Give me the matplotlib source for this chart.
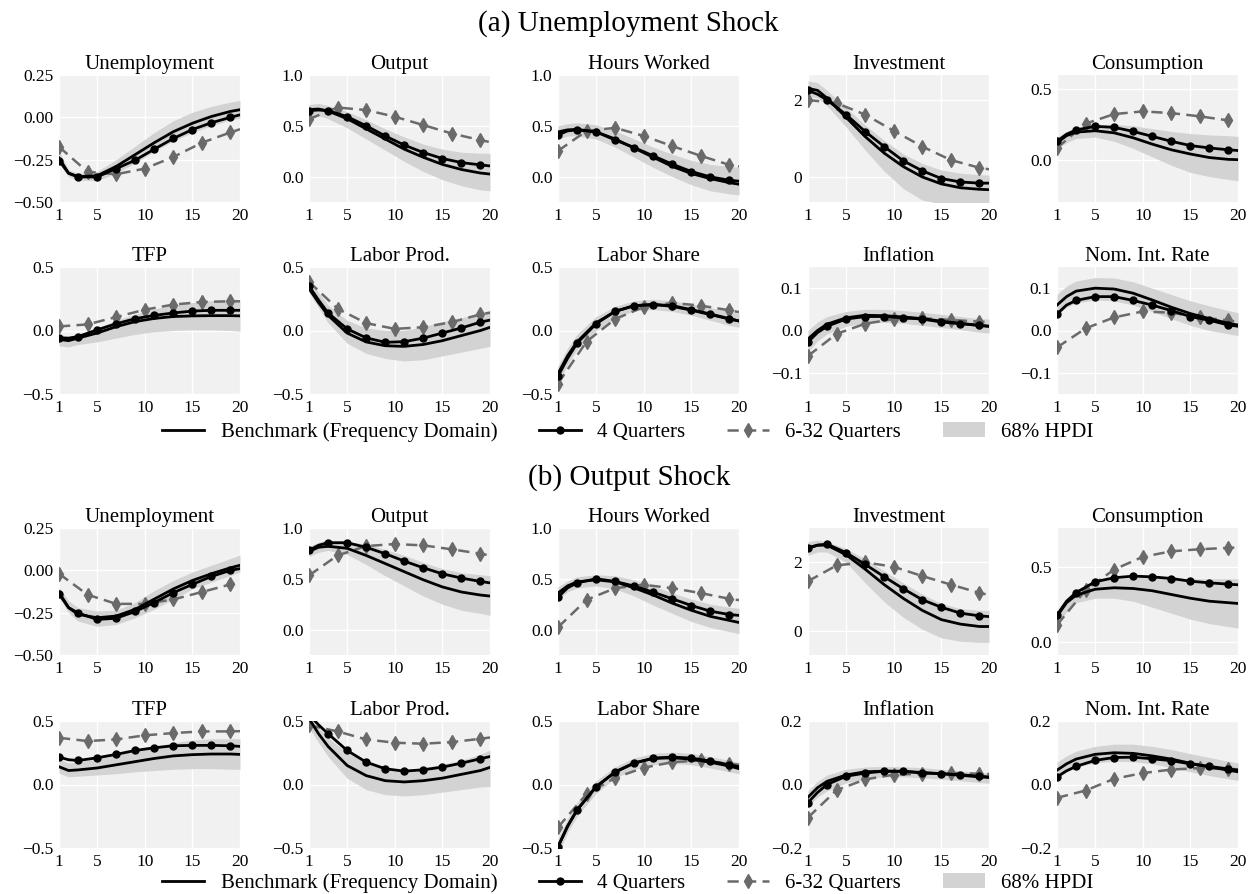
import matplotlib
matplotlib.use("Agg")
import matplotlib.pyplot as plt
from matplotlib.lines import Line2D
from matplotlib.patches import Patch

plt.rcParams['font.family'] = ['Liberation Serif', 'DejaVu Serif']
plt.rcParams['axes.unicode_minus'] = True

PANELS = ["Unemployment", "Output", "Hours Worked", "Investment", "Consumption",
          "TFP", "Labor Prod.", "Labor Share", "Inflation", "Nom. Int. Rate"]
SHOCKS = ["(a) Unemployment Shock", "(b) Output Shock"]
LEGEND = ["Benchmark (Frequency Domain)", "4 Quarters", "6-32 Quarters", "68% HPDI"]

XTICKS = [1, 5, 10, 15, 20]
Q = [1, 2, 3, 5, 7, 9, 11, 13, 15, 17, 19, 20]
Q632 = [1, 4, 7, 10, 13, 16, 19, 20]

# ---------------- (a) Unemployment shock ----------------
A_BENCH = [
    [-0.24, -0.33, -0.35, -0.345, -0.29, -0.22, -0.15, -0.085, -0.035, 0.005, 0.035, 0.045],
    [0.66, 0.665, 0.645, 0.57, 0.47, 0.37, 0.27, 0.19, 0.12, 0.07, 0.035, 0.025],
    [0.44, 0.46, 0.465, 0.44, 0.37, 0.28, 0.19, 0.10, 0.03, -0.02, -0.06, -0.075],
    [2.3, 2.25, 2.05, 1.55, 1.05, 0.62, 0.27, 0.0, -0.18, -0.28, -0.32, -0.33],
    [0.12, 0.17, 0.195, 0.205, 0.19, 0.155, 0.11, 0.07, 0.04, 0.015, 0.002, 0.0],
    [-0.07, -0.08, -0.06, -0.02, 0.03, 0.07, 0.095, 0.11, 0.115, 0.117, 0.117, 0.115],
    [0.33, 0.22, 0.12, -0.02, -0.09, -0.12, -0.125, -0.11, -0.08, -0.04, 0.0, 0.025],
    [-0.34, -0.2, -0.09, 0.06, 0.15, 0.195, 0.205, 0.19, 0.16, 0.125, 0.09, 0.075],
    [-0.02, 0.0, 0.015, 0.03, 0.036, 0.035, 0.032, 0.028, 0.022, 0.017, 0.012, 0.01],
    [0.06, 0.08, 0.093, 0.1, 0.098, 0.088, 0.072, 0.055, 0.04, 0.028, 0.017, 0.013],
]
A_Q4 = [
    [-0.255, -0.33, -0.352, -0.352, -0.303, -0.253, -0.188, -0.125, -0.072, -0.032, 0.0, 0.015],
    [0.65, 0.655, 0.65, 0.59, 0.5, 0.40, 0.31, 0.237, 0.178, 0.138, 0.115, 0.105],
    [0.41, 0.45, 0.46, 0.44, 0.36, 0.286, 0.204, 0.122, 0.05, -0.003, -0.036, -0.045],
    [2.25, 2.15, 2.0, 1.62, 1.18, 0.79, 0.42, 0.16, -0.04, -0.13, -0.16, -0.16],
    [0.13, 0.18, 0.21, 0.236, 0.229, 0.2, 0.165, 0.13, 0.10, 0.083, 0.07, 0.065],
    [-0.058, -0.06, -0.048, 0.005, 0.053, 0.093, 0.119, 0.138, 0.153, 0.159, 0.159, 0.159],
    [0.35, 0.24, 0.138, 0.013, -0.058, -0.093, -0.088, -0.06, -0.02, 0.02, 0.066, 0.082],
    [-0.36, -0.22, -0.1, 0.053, 0.151, 0.196, 0.204, 0.196, 0.164, 0.13, 0.093, 0.075],
    [-0.027, -0.005, 0.01, 0.027, 0.033, 0.033, 0.03, 0.027, 0.02, 0.016, 0.012, 0.01],
    [0.039, 0.06, 0.071, 0.08, 0.08, 0.071, 0.06, 0.047, 0.033, 0.024, 0.013, 0.01],
]
A_LO = [
    [-0.27, -0.35, -0.37, -0.375, -0.33, -0.27, -0.2, -0.14, -0.09, -0.05, -0.015, -0.005],
    [0.6, 0.6, 0.57, 0.48, 0.37, 0.26, 0.15, 0.05, -0.03, -0.09, -0.13, -0.14],
    [0.37, 0.4, 0.4, 0.37, 0.29, 0.19, 0.09, 0.0, -0.08, -0.14, -0.17, -0.18],
    [2.1, 2.05, 1.85, 1.3, 0.7, 0.15, -0.3, -0.6, -0.7, -0.72, -0.72, -0.72],
    [0.08, 0.12, 0.15, 0.16, 0.13, 0.08, 0.02, -0.04, -0.09, -0.12, -0.14, -0.15],
    [-0.12, -0.13, -0.11, -0.09, -0.06, -0.03, -0.01, 0.0, 0.005, 0.005, 0.0, -0.005],
    [0.3, 0.18, 0.06, -0.1, -0.18, -0.22, -0.24, -0.23, -0.2, -0.17, -0.14, -0.125],
    [-0.42, -0.27, -0.15, 0.0, 0.1, 0.155, 0.165, 0.15, 0.12, 0.08, 0.04, 0.025],
    [-0.05, -0.025, -0.008, 0.01, 0.018, 0.019, 0.017, 0.012, 0.007, 0.002, -0.004, -0.006],
    [0.035, 0.055, 0.065, 0.072, 0.07, 0.06, 0.045, 0.028, 0.012, 0.0, -0.008, -0.012],
]
A_HI = [
    [-0.2, -0.31, -0.33, -0.32, -0.25, -0.17, -0.09, -0.02, 0.03, 0.065, 0.09, 0.1],
    [0.71, 0.72, 0.7, 0.64, 0.56, 0.47, 0.39, 0.32, 0.27, 0.24, 0.23, 0.23],
    [0.5, 0.52, 0.53, 0.51, 0.45, 0.37, 0.29, 0.22, 0.16, 0.12, 0.1, 0.09],
    [2.5, 2.45, 2.25, 1.8, 1.35, 0.95, 0.6, 0.35, 0.18, 0.1, 0.06, 0.05],
    [0.16, 0.2, 0.23, 0.25, 0.25, 0.24, 0.22, 0.2, 0.185, 0.175, 0.17, 0.165],
    [-0.03, -0.05, -0.03, 0.02, 0.08, 0.13, 0.17, 0.2, 0.22, 0.235, 0.24, 0.24],
    [0.4, 0.3, 0.2, 0.08, 0.02, 0.0, 0.0, 0.03, 0.07, 0.1, 0.14, 0.16],
    [-0.28, -0.14, -0.03, 0.11, 0.19, 0.235, 0.245, 0.235, 0.21, 0.18, 0.15, 0.135],
    [0.0, 0.02, 0.033, 0.045, 0.05, 0.05, 0.047, 0.043, 0.038, 0.033, 0.028, 0.027],
    [0.085, 0.105, 0.117, 0.125, 0.124, 0.115, 0.1, 0.085, 0.07, 0.058, 0.047, 0.042],
]
A_Q632 = [
    [-0.174, -0.322, -0.336, -0.303, -0.234, -0.15, -0.089, -0.07],
    [0.566, 0.68, 0.655, 0.59, 0.507, 0.424, 0.359, 0.34],
    [0.253, 0.45, 0.48, 0.40, 0.30, 0.204, 0.115, 0.1],
    [2.0, 1.92, 1.62, 1.2, 0.79, 0.44, 0.24, 0.2],
    [0.083, 0.255, 0.323, 0.342, 0.33, 0.307, 0.278, 0.27],
    [0.032, 0.048, 0.106, 0.164, 0.204, 0.225, 0.23, 0.23],
    [0.384, 0.172, 0.058, 0.013, 0.026, 0.066, 0.127, 0.14],
    [-0.418, -0.087, 0.09, 0.185, 0.217, 0.196, 0.159, 0.145],
    [-0.06, -0.008, 0.016, 0.027, 0.029, 0.025, 0.021, 0.02],
    [-0.04, 0.005, 0.031, 0.045, 0.042, 0.031, 0.024, 0.02],
]

# ---------------- (b) Output shock ----------------
B_BENCH = [
    [-0.13, -0.22, -0.26, -0.28, -0.27, -0.23, -0.17, -0.11, -0.06, -0.02, 0.015, 0.03],
    [0.77, 0.81, 0.82, 0.8, 0.73, 0.65, 0.57, 0.49, 0.42, 0.37, 0.34, 0.33],
    [0.36, 0.43, 0.47, 0.49, 0.47, 0.41, 0.34, 0.26, 0.19, 0.13, 0.09, 0.07],
    [2.4, 2.5, 2.5, 2.22, 1.8, 1.35, 0.95, 0.6, 0.33, 0.2, 0.13, 0.13],
    [0.17, 0.26, 0.31, 0.35, 0.36, 0.355, 0.34, 0.315, 0.29, 0.27, 0.26, 0.255],
    [0.14, 0.11, 0.115, 0.13, 0.155, 0.18, 0.205, 0.225, 0.235, 0.24, 0.24, 0.237],
    [0.52, 0.4, 0.3, 0.15, 0.07, 0.03, 0.02, 0.03, 0.05, 0.08, 0.11, 0.135],
    [-0.49, -0.33, -0.2, -0.02, 0.1, 0.17, 0.205, 0.21, 0.2, 0.175, 0.145, 0.125],
    [-0.04, -0.01, 0.01, 0.03, 0.04, 0.042, 0.041, 0.038, 0.034, 0.029, 0.024, 0.022],
    [0.045, 0.065, 0.08, 0.095, 0.1, 0.098, 0.09, 0.08, 0.067, 0.055, 0.045, 0.04],
]
B_Q4 = [
    [-0.139, -0.22, -0.252, -0.29, -0.283, -0.243, -0.19, -0.132, -0.083, -0.036, 0.0, 0.01],
    [0.78, 0.83, 0.855, 0.855, 0.81, 0.747, 0.674, 0.608, 0.549, 0.507, 0.474, 0.46],
    [0.319, 0.41, 0.46, 0.5, 0.474, 0.428, 0.368, 0.303, 0.237, 0.181, 0.148, 0.14],
    [2.43, 2.5, 2.53, 2.28, 1.94, 1.58, 1.23, 0.91, 0.69, 0.52, 0.44, 0.42],
    [0.178, 0.27, 0.327, 0.4, 0.427, 0.438, 0.433, 0.422, 0.404, 0.393, 0.384, 0.38],
    [0.216, 0.195, 0.189, 0.21, 0.237, 0.268, 0.289, 0.305, 0.308, 0.308, 0.305, 0.3],
    [0.55, 0.47, 0.4, 0.268, 0.176, 0.124, 0.105, 0.116, 0.137, 0.168, 0.203, 0.22],
    [-0.49, -0.33, -0.2, -0.016, 0.097, 0.168, 0.208, 0.216, 0.208, 0.184, 0.155, 0.14],
    [-0.057, -0.025, 0.0, 0.026, 0.036, 0.042, 0.042, 0.036, 0.034, 0.031, 0.026, 0.024],
    [0.024, 0.043, 0.057, 0.076, 0.085, 0.086, 0.081, 0.075, 0.065, 0.057, 0.049, 0.045],
]
B_LO = [
    [-0.16, -0.25, -0.3, -0.33, -0.32, -0.28, -0.23, -0.17, -0.11, -0.07, -0.03, -0.01],
    [0.72, 0.76, 0.78, 0.74, 0.64, 0.53, 0.43, 0.33, 0.25, 0.19, 0.16, 0.14],
    [0.3, 0.37, 0.41, 0.43, 0.4, 0.33, 0.24, 0.16, 0.08, 0.02, -0.02, -0.04],
    [2.2, 2.3, 2.3, 2.0, 1.4, 0.85, 0.4, 0.05, -0.2, -0.3, -0.33, -0.33],
    [0.1, 0.2, 0.26, 0.29, 0.29, 0.27, 0.23, 0.19, 0.15, 0.12, 0.1, 0.09],
    [0.09, 0.06, 0.065, 0.075, 0.085, 0.1, 0.11, 0.12, 0.125, 0.125, 0.12, 0.12],
    [0.45, 0.33, 0.22, 0.05, -0.04, -0.08, -0.09, -0.08, -0.06, -0.04, -0.02, -0.015],
    [-0.55, -0.38, -0.25, -0.07, 0.05, 0.12, 0.155, 0.165, 0.155, 0.13, 0.1, 0.085],
    [-0.07, -0.04, -0.02, 0.005, 0.018, 0.024, 0.024, 0.021, 0.017, 0.012, 0.006, 0.004],
    [0.02, 0.04, 0.055, 0.068, 0.073, 0.072, 0.065, 0.053, 0.04, 0.028, 0.018, 0.013],
]
B_HI = [
    [-0.1, -0.18, -0.22, -0.24, -0.235, -0.19, -0.12, -0.06, -0.01, 0.03, 0.07, 0.09],
    [0.82, 0.86, 0.88, 0.87, 0.84, 0.79, 0.73, 0.66, 0.6, 0.56, 0.54, 0.53],
    [0.42, 0.48, 0.52, 0.54, 0.53, 0.49, 0.43, 0.36, 0.3, 0.25, 0.22, 0.21],
    [2.6, 2.65, 2.6, 2.4, 2.1, 1.75, 1.4, 1.07, 0.8, 0.65, 0.6, 0.6],
    [0.2, 0.29, 0.35, 0.4, 0.42, 0.43, 0.43, 0.42, 0.42, 0.42, 0.42, 0.42],
    [0.2, 0.17, 0.18, 0.2, 0.23, 0.27, 0.3, 0.33, 0.35, 0.36, 0.36, 0.36],
    [0.55, 0.45, 0.37, 0.25, 0.17, 0.13, 0.12, 0.13, 0.16, 0.19, 0.24, 0.27],
    [-0.42, -0.27, -0.14, 0.03, 0.14, 0.21, 0.245, 0.255, 0.245, 0.22, 0.19, 0.175],
    [-0.02, 0.01, 0.03, 0.048, 0.055, 0.057, 0.056, 0.053, 0.048, 0.043, 0.038, 0.036],
    [0.07, 0.09, 0.105, 0.12, 0.127, 0.127, 0.12, 0.11, 0.097, 0.085, 0.073, 0.068],
]
B_Q632 = [
    [-0.02, -0.144, -0.198, -0.198, -0.172, -0.128, -0.083, -0.07],
    [0.533, 0.73, 0.822, 0.842, 0.829, 0.79, 0.747, 0.73],
    [0.023, 0.293, 0.408, 0.441, 0.408, 0.359, 0.303, 0.29],
    [1.45, 1.91, 2.0, 1.87, 1.6, 1.35, 1.11, 1.05],
    [0.111, 0.344, 0.482, 0.567, 0.604, 0.618, 0.627, 0.63],
    [0.368, 0.342, 0.355, 0.387, 0.405, 0.418, 0.418, 0.42],
    [0.466, 0.418, 0.355, 0.329, 0.321, 0.334, 0.36, 0.37],
    [-0.337, -0.074, 0.053, 0.132, 0.176, 0.189, 0.163, 0.155],
    [-0.104, -0.018, 0.016, 0.031, 0.034, 0.036, 0.034, 0.033],
    [-0.042, -0.019, 0.018, 0.036, 0.047, 0.052, 0.049, 0.048],
]

# y-axis ticks / limits per panel
A_YTICKS = [[-0.5, -0.25, 0.0, 0.25], [0.0, 0.5, 1.0], [0.0, 0.5, 1.0], [0, 2], [0.0, 0.5],
            [-0.5, 0.0, 0.5], [-0.5, 0.0, 0.5], [-0.5, 0.0, 0.5], [-0.1, 0.0, 0.1], [-0.1, 0.0, 0.1]]
A_YLIM = [(-0.5, 0.25), (-0.25, 1.0), (-0.25, 1.0), (-0.65, 2.65), (-0.3, 0.6),
          (-0.5, 0.5), (-0.5, 0.5), (-0.5, 0.5), (-0.15, 0.15), (-0.15, 0.15)]
B_YTICKS = [[-0.5, -0.25, 0.0, 0.25], [0.0, 0.5, 1.0], [0.0, 0.5, 1.0], [0, 2], [0.0, 0.5],
            [-0.5, 0.0, 0.5], [-0.5, 0.0, 0.5], [-0.5, 0.0, 0.5], [-0.2, 0.0, 0.2], [-0.2, 0.0, 0.2]]
B_YLIM = [(-0.5, 0.25), (-0.25, 1.0), (-0.25, 1.0), (-0.7, 3.0), (-0.09, 0.76),
          (-0.5, 0.5), (-0.5, 0.5), (-0.5, 0.5), (-0.2, 0.2), (-0.2, 0.2)]
YFMT = ["{:.2f}", "{:.1f}", "{:.1f}", "{:.0f}", "{:.1f}",
        "{:.1f}", "{:.1f}", "{:.1f}", "{:.1f}", "{:.1f}"]

W, H = 1250, 894
fig = plt.figure(figsize=(W / 100, H / 100), dpi=100)

FACE = '#f1f1f1'
BAND = '#d3d3d3'
GRAY = '#6a6a6a'
DASH = (0, (4.5, 2.5))

col_left = [59, 309, 558, 808, 1057]
ax_w, ax_h = 181, 127
row_top = [75, 267, 528, 721]

mk4 = [i for i, q in enumerate(Q) if q % 2 == 1 and q < 20]
mk6 = [i for i, q in enumerate(Q632) if q < 20]


def fmt_tick(v, f):
    s = f.format(v)
    if s.startswith('-'):
        s = '\u2212' + s[1:]
    return s


datasets = [
    (A_BENCH, A_Q4, A_LO, A_HI, A_Q632, A_YTICKS, A_YLIM),
    (B_BENCH, B_Q4, B_LO, B_HI, B_Q632, B_YTICKS, B_YLIM),
]

for s, (bench, q4, lo, hi, q632, yticks, ylim) in enumerate(datasets):
    for p in range(10):
        r = s * 2 + p // 5
        c = p % 5
        left = col_left[c] / W
        bottom = 1 - (row_top[r] + ax_h) / H
        ax = fig.add_axes([left, bottom, ax_w / W, ax_h / H])
        ax.set_facecolor(FACE)
        for sp in ax.spines.values():
            sp.set_visible(False)
        ax.grid(True, color='white', lw=1.0)
        ax.set_axisbelow(True)
        ax.fill_between(Q, lo[p], hi[p], color=BAND, lw=0, zorder=1)
        ax.plot(Q, bench[p], color='black', lw=2.0, zorder=3)
        ax.plot(Q, q4[p], color='black', lw=2.0, marker='o', ms=5,
                markevery=mk4, zorder=4)
        ax.plot(Q632, q632[p], color=GRAY, lw=1.8, ls=DASH, marker='d',
                ms=7.5, markevery=mk6, zorder=2.5)
        ax.set_xlim(1, 20)
        ax.set_ylim(*ylim[p])
        ax.set_xticks(XTICKS)
        ax.set_xticklabels([str(t) for t in XTICKS])
        ax.set_yticks(yticks[p])
        ax.set_yticklabels([fmt_tick(v, YFMT[p]) for v in yticks[p]])
        ax.tick_params(length=0, labelsize=12.5, pad=4)
        ax.set_title(PANELS[p], fontsize=15, pad=4)

    # section title
    ytitle = 24 if s == 0 else 478
    fig.text(0.503, 1 - ytitle / H, SHOCKS[s], ha='center', va='center', fontsize=21)

    handles = [
        Line2D([], [], color='black', lw=2.0),
        Line2D([], [], color='black', lw=2.0, marker='o', ms=5),
        Line2D([], [], color=GRAY, lw=1.8, ls=DASH, marker='d', ms=7.5),
        Patch(facecolor=BAND, edgecolor='none'),
    ]
    yleg = 432 if s == 0 else 883
    fig.legend(handles, LEGEND, loc='center', ncol=4, frameon=False,
               bbox_to_anchor=(628 / W, 1 - yleg / H), fontsize=15,
               handlelength=2.0, handletextpad=0.8, columnspacing=2.0,
               borderaxespad=0, borderpad=0)

fig.savefig('out.png', dpi=100)
